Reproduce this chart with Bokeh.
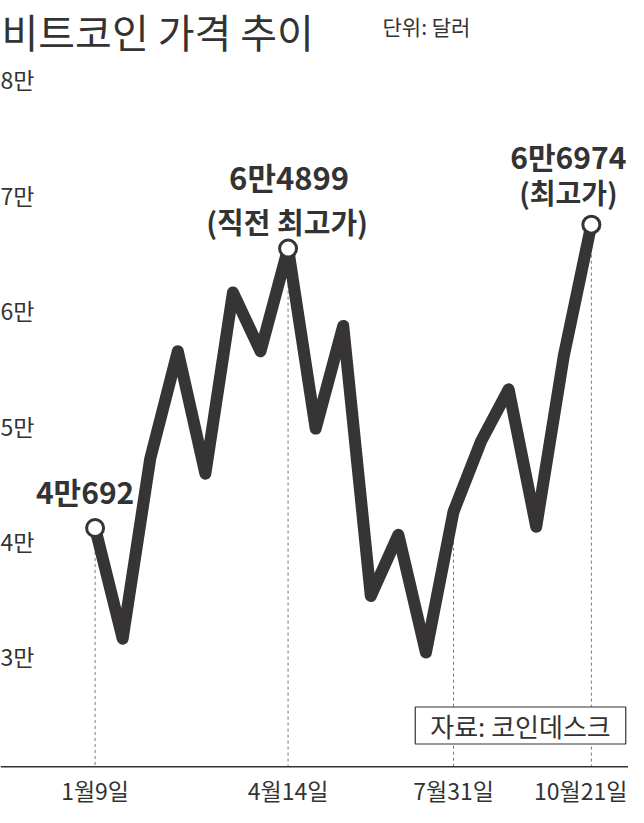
from bokeh.plotting import figure
from bokeh.models import Label, Span
from bokeh.core.properties import value
from bokeh.embed import file_html
from bokeh.resources import INLINE

# ---- data ----
prices = [40692, 31100, 46700, 56000, 45400, 61100, 56000, 64899, 49300, 58200,
          34800, 40100, 29900, 42100, 48200, 52700, 40800, 55600, 66974]
date_idx = [0, 7, 13, 18]
date_labels = ["1월9일", "4월14일", "7월31일", "10월21일"]
y_ticks = [30000, 40000, 50000, 60000, 70000, 80000]
y_tick_labels = ["3만", "4만", "5만", "6만", "7만", "8만"]
callout_idx = [0, 7, 18]
callout_main = ["4만692", "6만4899", "6만6974"]
callout_sub = ["", "(직전 최고가)", "(최고가)"]
title_text = "비트코인 가격 추이"
unit_text = "단위: 달러"
source_text = "자료: 코인데스크"
base_value = 20000

# ---- layout ----
W, H = 628, 807
PX0, STEP = 94.6, 27.57          # screen x of first point, px per point
x_start = -PX0 / STEP
x_end = (W - PX0) / STEP
y_start, y_end = 16471, 86394

FONT = "Noto Sans CJK KR"
INK = "#363435"
TXT = "#333333"

xs = list(range(len(prices)))

p = figure(width=W, height=H, x_range=(x_start, x_end), y_range=(y_start, y_end),
           output_backend="svg", toolbar_location=None,
           x_axis_location=None, y_axis_location=None, min_border=0)
p.outline_line_color = None
p.grid.visible = False
p.background_fill_color = "white"
p.border_fill_color = "white"

# baseline
p.add_layout(Span(location=base_value, dimension="width", line_color=TXT, line_width=1.5))

# dotted guides
p.segment(x0=date_idx, y0=[prices[i] for i in date_idx], x1=date_idx,
          y1=[base_value] * len(date_idx), line_color="#777777", line_width=1,
          line_dash="3 3")

# price line
p.line(xs, prices, line_color=INK, line_width=12, line_join="round", line_cap="round")

# markers
p.scatter(callout_idx, [prices[i] for i in callout_idx],
          size=17, fill_color="white", line_color=INK, line_width=3)

# y tick labels
p.text(x=[x_start] * len(y_ticks), y=y_ticks, text=y_tick_labels,
       text_align="left", text_baseline="middle", y_offset=5,
       text_font=value(FONT), text_font_size="23px", text_color=TXT)

# x labels
p.text(x=date_idx[:-1], y=[base_value] * (len(date_idx) - 1), text=date_labels[:-1],
       text_align="center", text_baseline="middle", y_offset=23,
       text_font=value(FONT), text_font_size="23px", text_color=TXT)
p.text(x=date_idx[-1:], y=[base_value], text=date_labels[-1:],
       text_align="right", text_baseline="middle", y_offset=23, x_offset=36,
       text_font=value(FONT), text_font_size="23px", text_color=TXT)

# callouts
main_off = [(-10, -37), (1, -72), (-23, -69)]
main_size = ["30px", "31px", "30px"]
sub_off = [(0, 0), (-1, -28), (-23, -33)]
sub_size = ["28px", "29px", "28px"]
for k in range(len(callout_idx)):
    xi = callout_idx[k]
    p.text(x=[xi], y=[prices[xi]], text=[callout_main[k]],
           x_offset=main_off[k][0], y_offset=main_off[k][1],
           text_align="center", text_baseline="middle",
           text_font=value(FONT), text_font_size=main_size[k], text_font_style="bold",
           text_color=TXT)
    if callout_sub[k]:
        p.text(x=[xi], y=[prices[xi]], text=[callout_sub[k]],
               x_offset=sub_off[k][0], y_offset=sub_off[k][1],
               text_align="center", text_baseline="middle",
               text_font=value(FONT), text_font_size=sub_size[k], text_font_style="bold",
               text_color=TXT)

# title & unit
p.add_layout(Label(x=1, y=H - 1, x_units="screen", y_units="screen", text=title_text,
                   text_font=FONT, text_font_size="40px", text_color=TXT,
                   text_align="left", text_baseline="top"))
p.add_layout(Label(x=382, y=H - 25, x_units="screen", y_units="screen", text=unit_text,
                   text_font=FONT, text_font_size="21px", text_color=TXT,
                   text_align="left", text_baseline="middle"))

# source box
p.add_layout(Label(x=520, y=H - 725, x_units="screen", y_units="screen", text=source_text,
                   text_font=FONT, text_font_size="26px", text_color=TXT,
                   text_align="center", text_baseline="middle",
                   border_line_color=TXT, border_line_width=1.2,
                   background_fill_color="white",
                   padding={"left": 15, "right": 15, "top": 0, "bottom": 0}))

open("out.html", "w").write(file_html(p, INLINE))
